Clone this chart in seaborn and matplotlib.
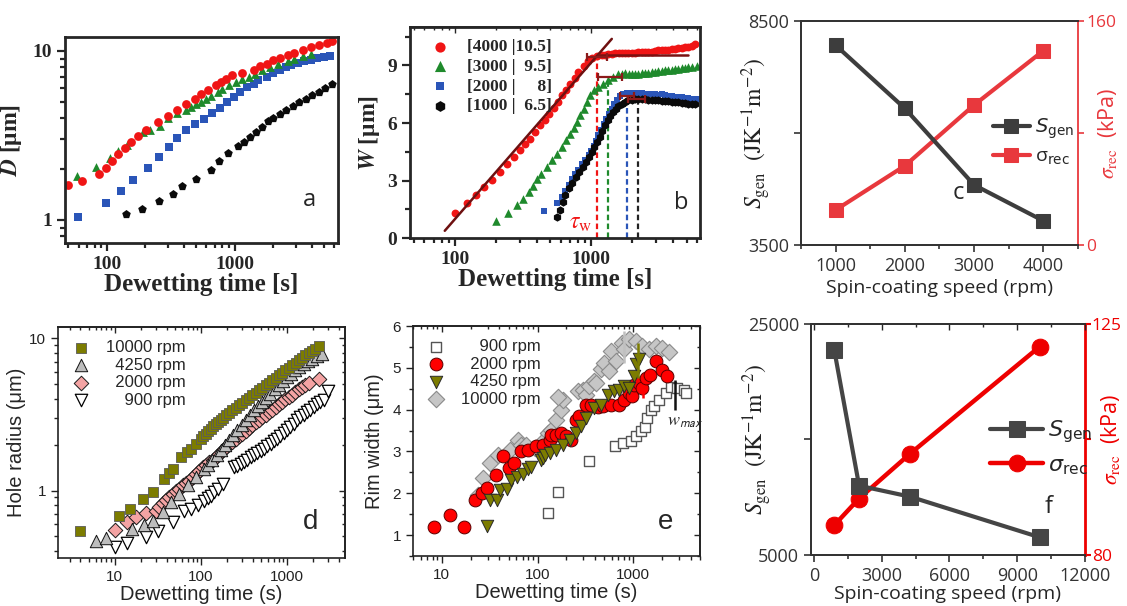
import matplotlib
matplotlib.use("Agg")
import matplotlib.pyplot as plt
import seaborn as sns
from matplotlib.ticker import (LogLocator, NullFormatter, FixedLocator,
                               MultipleLocator, FixedFormatter)
from matplotlib.font_manager import FontProperties

# ---------------- data ----------------
# panel a: D vs dewetting time
a_red_t = [50, 64, 86, 99, 110, 123, 139, 154, 175, 201, 250, 298, 351, 414, 485, 546, 621, 711, 777, 849,
           953, 1138, 1399, 1574, 1770, 1991, 2239, 2594, 2917, 3380, 3917, 4538, 5250, 5737]
a_red_d = [1.62, 1.71, 1.87, 2.03, 2.23, 2.44, 2.67, 2.88, 3.12, 3.42, 3.79, 4.10, 4.45, 4.83, 5.22, 5.54, 5.90,
           6.26, 6.55, 6.86, 7.17, 7.41, 7.76, 8.12, 8.42, 8.81, 9.14, 9.43, 9.73, 10.1, 10.5, 10.9, 11.2, 11.4]
a_green_t = [58, 82, 105, 123, 144, 193, 217, 262, 298, 351, 414, 457, 500, 546, 596, 651, 732, 799, 899,
             1012, 1138, 1280, 1441, 1620, 1878, 2173, 2594, 2917, 3380, 3917]
a_green_d = [1.81, 2.05, 2.33, 2.55, 2.76, 3.31, 3.42, 3.62, 4.03, 4.29, 4.49, 4.66, 4.83, 4.98, 5.22, 5.41,
             5.71, 5.98, 6.26, 6.55, 6.86, 7.01, 7.34, 7.69, 8.04, 8.34, 8.72, 9.01, 9.30, 9.56]
a_blue_t = [59, 99, 128, 159, 209, 254, 303, 355, 414, 485, 569, 663, 764, 873, 983, 1106, 1243, 1399, 1527,
            1770, 1991, 2239, 2517, 2749, 3092, 3482, 3917, 4404, 4954, 5570]
a_blue_d = [1.035, 1.26, 1.49, 1.73, 2.03, 2.37, 2.70, 3.06, 3.39, 3.71, 3.97, 4.29, 4.62, 4.98, 5.34, 5.71,
            6.11, 6.41, 6.70, 7.01, 7.41, 7.76, 8.04, 8.30, 8.54, 8.69, 8.89, 9.09, 9.21, 9.30]
a_black_t = [141, 189, 254, 327, 384, 500, 651, 745, 889, 1060, 1172, 1318, 1457, 1620, 1800, 1991, 2239, 2517,
             2832, 3186, 3581, 4027, 4538, 5095, 5737]
a_black_d = [1.09, 1.16, 1.29, 1.43, 1.58, 1.75, 1.98, 2.23, 2.48, 2.72, 2.88, 3.09, 3.31, 3.54, 3.85, 4.03,
             4.21, 4.45, 4.70, 4.98, 5.22, 5.46, 5.71, 6.07, 6.41]

# panel b: W vs dewetting time
b_labels = ["[4000 |10.5]", "[3000 |  9.5]", "[2000 |     8]", "[1000 |  6.5]"]
b_red_t = [101, 123, 142, 163, 188, 216, 242, 270, 303, 329, 358, 389, 424, 461, 493, 530, 571, 611, 653, 702,
           755, 807, 879, 946, 1012, 1100, 1198, 1270, 1339, 1420, 1498, 1590, 1677, 1780, 1875, 1990, 2099,
           2220, 2349, 2490, 2626, 2780, 2938, 3110, 3289, 3480, 3675, 3890, 4113, 4350, 4604, 4870, 5150,
           5450, 5765]
b_red_w = [1.33, 1.85, 2.25, 2.68, 3.03, 3.46, 3.86, 4.24, 4.58, 4.90, 5.19, 5.53, 5.88, 6.18, 6.49, 6.80,
           7.09, 7.44, 7.74, 8.05, 8.36, 8.65, 8.95, 9.22, 9.40, 9.48, 9.55, 9.52, 9.60, 9.58, 9.64, 9.62, 9.66,
           9.63, 9.67, 9.66, 9.67, 9.70, 9.69, 9.71, 9.72, 9.70, 9.75, 9.78, 9.78, 9.80, 9.81, 9.84, 9.86, 9.88,
           9.92, 9.95, 9.98, 10.03, 10.09]
b_green_t = [199, 246, 286, 314, 348, 372, 401, 431, 474, 516, 561, 611, 653, 702, 742, 786, 831, 879, 930, 984,
             1057, 1127, 1230, 1339, 1456, 1585, 1680, 1774, 1880, 1986, 2100, 2217, 2350, 2484, 2630, 2780,
             2940, 3106, 3290, 3477, 3680, 3892, 4120, 4353, 4600, 4873, 5150, 5453, 5932]
b_green_w = [0.91, 1.30, 1.73, 2.02, 2.42, 2.72, 3.06, 3.37, 3.72, 4.07, 4.38, 4.76, 5.10, 5.42, 5.76, 6.05,
             6.40, 6.75, 7.09, 7.44, 7.70, 7.87, 8.05, 8.22, 8.39, 8.57, 8.55, 8.60, 8.56, 8.53, 8.55, 8.57,
             8.58, 8.60, 8.62, 8.65, 8.68, 8.70, 8.72, 8.74, 8.76, 8.77, 8.80, 8.83, 8.85, 8.88, 8.90, 8.91, 8.95]
b_blue_t = [448, 561, 611, 645, 682, 722, 764, 807, 855, 904, 956, 1000, 1040, 1082, 1127, 1183, 1238, 1294,
            1355, 1417, 1481, 1550, 1630, 1723, 1824, 1986, 2100, 2217, 2350, 2484, 2630, 2780, 2940, 3106,
            3290, 3477, 3680, 3892, 4120, 4353, 4600, 4873, 5150, 5453, 5932]
b_blue_w = [1.43, 1.85, 2.16, 2.47, 2.77, 3.06, 3.34, 3.58, 3.86, 4.10, 4.32, 4.55, 4.79, 5.07, 5.36, 5.66,
            5.93, 6.23, 6.49, 6.75, 6.97, 7.18, 7.39, 7.53, 7.56, 7.58, 7.57, 7.56, 7.55, 7.53, 7.51, 7.49,
            7.49, 7.48, 7.49, 7.44, 7.42, 7.39, 7.37, 7.35, 7.33, 7.32, 7.29, 7.27, 7.25]
b_black_t = [561, 593, 617, 645, 682, 722, 773, 817, 864, 914, 967, 1012, 1057, 1106, 1158, 1210, 1265, 1324,
             1384, 1449, 1516, 1585, 1677, 1774, 1875, 1990, 2099, 2220, 2349, 2490, 2626, 2780, 2938, 3110,
             3289, 3480, 3675, 3890, 4113, 4350, 4604, 4870, 5150, 5450, 5765]
b_black_w = [1.12, 1.47, 1.90, 2.25, 2.60, 2.89, 3.20, 3.46, 3.72, 3.98, 4.24, 4.50, 4.76, 5.02, 5.28, 5.59,
             5.88, 6.14, 6.37, 6.57, 6.75, 6.87, 7.01, 7.11, 7.18, 7.22, 7.25, 7.25, 7.24, 7.23, 7.22, 7.21,
             7.20, 7.18, 7.17, 7.15, 7.14, 7.11, 7.09, 7.07, 7.06, 7.04, 7.01, 6.99, 6.97]
b_fit_t = [84.5, 1416]
b_fit_w = [0.39, 10.38]
b_plateau_t = [1127, 5100]
b_plateau_w = [9.52, 9.52]
b_err_t = [1100, 1375, 1824, 2217]
b_err_w = [9.45, 8.39, 7.42, 7.24]
b_err_lo = [171, 248, 194, 367]
b_err_hi = [203, 302, 226, 267]
b_tau_t = [1100, 1338, 1824, 2217]
b_tau_top = [9.45, 8.29, 7.32, 7.09]

# panel c
c_speed = [1000, 2000, 3000, 4000]
c_sgen = [7960, 6550, 4840, 4040]
c_sigma = [25, 56.6, 100, 138.8]

# panel d: hole radius
d_labels = ["10000 rpm", "\u20074250 rpm", "\u20072000 rpm", "\u2007\u2007900 rpm"]
d_10000_t = [3.95, 11.2, 15.2, 21.3, 27.7, 37.7, 43.1, 47.2, 58.8, 68.4, 76.7, 87.5, 100, 107, 114, 122, 130,
             139, 149, 159, 170, 182, 194, 212, 232, 253, 277, 302, 330, 360, 394, 430, 470, 515, 562, 615,
             671, 733, 800, 875, 955, 1045, 1142, 1250, 1360, 1490, 1626, 1780, 1941, 2120, 2314]
d_10000_r = [0.54, 0.684, 0.757, 0.881, 0.975, 1.19, 1.30, 1.39, 1.66, 1.79, 1.88, 2.03, 2.19, 2.27, 2.36,
             2.45, 2.55, 2.65, 2.75, 2.83, 2.92, 3.02, 3.12, 3.25, 3.37, 3.50, 3.63, 3.78, 3.92, 4.07, 4.23,
             4.40, 4.56, 4.74, 4.92, 5.11, 5.31, 5.52, 5.73, 5.95, 6.18, 6.42, 6.67, 6.93, 7.19, 7.47, 7.76,
             8.02, 8.28, 8.58, 8.90]
d_4250_t = [6.04, 7.88, 16.0, 21.6, 27.7, 36.2, 45.1, 56.2, 70.3, 87.5, 109, 122, 136, 152, 170, 190, 212,
            237, 265, 296, 330, 368, 412, 460, 515, 575, 641, 715, 800, 895, 1000, 1115, 1247, 1390, 1553,
            1740, 1941, 2200, 2535]
d_4250_r = [0.463, 0.488, 0.56, 0.597, 0.634, 0.719, 0.838, 0.951, 1.08, 1.22, 1.39, 1.48, 1.58, 1.70, 1.84,
            1.99, 2.14, 2.31, 2.49, 2.68, 2.89, 3.12, 3.37, 3.58, 3.82, 4.07, 4.34, 4.62, 4.92, 5.24, 5.58,
            5.87, 6.18, 6.50, 6.84, 7.10, 7.38, 7.65, 7.96]
d_2000_t = [10, 13.9, 17.8, 22.8, 30.3, 33, 36.2, 39.5, 43.1, 47, 51.5, 56, 61.5, 67, 73.3, 80, 87.5, 96, 105,
            115, 125, 137, 149, 163, 178, 195, 212, 232, 253, 278, 303, 332, 361, 396, 431, 472, 515, 563,
            614, 672, 733, 800, 875, 955, 1043, 1140, 1247, 1360, 1489, 1630, 1775, 2314]
d_2000_r = [0.551, 0.625, 0.667, 0.708, 0.738, 0.78, 0.824, 0.86, 0.903, 0.95, 0.989, 1.03, 1.08, 1.12, 1.16,
            1.22, 1.29, 1.35, 1.42, 1.48, 1.54, 1.60, 1.67, 1.75, 1.84, 1.92, 2.01, 2.10, 2.19, 2.28, 2.36,
            2.47, 2.59, 2.70, 2.82, 2.93, 3.04, 3.16, 3.28, 3.41, 3.54, 3.68, 3.82, 3.97, 4.12, 4.28, 4.45,
            4.62, 4.80, 4.95, 5.10, 5.45]
d_900_t = [10, 13.9, 22.8, 31.7, 47.2, 64.2, 76.7, 91.6, 109, 120, 130, 143, 156, 178, 242, 265, 289, 316,
           346, 378, 412, 450, 492, 538, 588, 642, 700, 766, 837, 915, 1000, 1090, 1191, 1300, 1423, 1560,
           1702, 1860, 2028, 2220, 2421, 2650, 3000]
d_900_r = [0.423, 0.45, 0.492, 0.54, 0.618, 0.738, 0.757, 0.809, 0.859, 0.89, 0.927, 0.98, 1.03, 1.11, 1.42,
           1.46, 1.50, 1.55, 1.59, 1.65, 1.70, 1.76, 1.82, 1.88, 1.95, 2.03, 2.11, 2.19, 2.27, 2.38, 2.49,
           2.62, 2.75, 2.90, 3.04, 3.16, 3.28, 3.41, 3.54, 3.68, 3.82, 3.95, 4.50]

# panel e: rim width
e_labels = ["\u2007\u2007900 rpm", "\u20072000 rpm", "\u20074250 rpm", "10000 rpm"]
e_900_t = [128, 163, 347, 649, 773, 944, 1064, 1200, 1342, 1397, 1526, 1650, 1863, 2185, 2455, 2880, 3380, 3600]
e_900_w = [1.53, 2.02, 2.78, 3.14, 3.20, 3.24, 3.38, 3.48, 3.59, 3.80, 4.00, 4.08, 4.24, 4.40, 4.55, 4.52,
           4.48, 4.40]
e_2000_t = [8.2, 12.2, 17.0, 22.2, 26.1, 29.3, 37.2, 43.7, 50.5, 56.4, 67.9, 79.5, 97.2, 114, 134, 139, 157,
            176, 199, 225, 251, 274, 323, 362, 425, 479, 585, 717, 804, 906, 980, 1021, 1152, 1250, 1352,
            1480, 1720, 2000, 2250]
e_2000_w = [1.20, 1.48, 1.20, 1.84, 2.00, 2.12, 2.44, 2.88, 2.60, 2.72, 3.00, 3.04, 3.12, 3.16, 3.28, 3.40,
            3.40, 3.44, 3.36, 3.28, 3.76, 3.84, 4.10, 4.12, 4.07, 4.08, 4.10, 4.10, 4.24, 4.39, 4.32, 4.60,
            4.64, 4.52, 4.76, 4.84, 5.16, 4.96, 4.80]
e_4250_t = [29.8, 31.8, 37.8, 41.0, 47.4, 53.4, 61.1, 70.5, 79.5, 86.2, 110, 113, 119, 134, 157, 184, 216,
            253, 285, 322, 392, 460, 540, 633, 713, 804, 906, 1021, 1064, 1152]
e_4250_w = [1.22, 1.84, 1.84, 2.08, 2.10, 2.32, 2.40, 2.47, 2.58, 2.64, 2.80, 2.84, 2.92, 2.96, 3.04, 3.16,
            3.28, 3.44, 3.60, 3.80, 4.04, 4.12, 4.36, 4.44, 4.48, 4.56, 4.52, 4.80, 5.08, 5.20]
e_10000_t = [24.0, 27.0, 32.0, 38.8, 51.3, 62.5, 67.9, 76.0, 93.3, 114, 128, 139, 157, 176, 183, 162, 263, 297,
             321, 348, 392, 408, 460, 499, 560, 585, 655, 772, 804, 906, 1063, 1247, 1470, 1718, 2000, 2362]
e_10000_w = [1.97, 2.37, 2.72, 2.92, 3.04, 3.28, 3.16, 3.16, 3.08, 3.24, 3.44, 3.52, 3.76, 4.00, 4.24, 4.31,
             4.44, 4.48, 4.36, 4.56, 4.68, 4.64, 4.98, 5.12, 4.92, 5.40, 5.16, 5.60, 5.44, 5.68, 5.64, 5.52,
             5.44, 5.52, 5.48, 5.38]
e_bar_t = [804, 1132, 1276, 2705]
e_bar_lo = [5.12, 4.76, 4.28, 4.00]
e_bar_hi = [5.88, 5.60, 4.60, 4.72]

# panel f
f_speed = [900, 2000, 4250, 10000]
f_sgen = [22750, 11000, 10050, 6530]
f_sigma = [85.8, 91.0, 99.7, 120.6]

# ---------------- style ----------------
sns.set_theme(style="ticks")
plt.rcParams["font.family"] = ["Liberation Sans", "DejaVu Sans"]
plt.rcParams["mathtext.fontset"] = "stix"
plt.rcParams["axes.unicode_minus"] = True

SERIF = ["Liberation Serif", "DejaVu Serif"]
SANS = ["Liberation Sans", "DejaVu Sans"]
OPEN = ["Open Sans", "DejaVu Sans"]

fig = plt.figure(figsize=(11.27, 6.06), dpi=100)
fig.patch.set_facecolor("white")


def log_minor(axis):
    axis.set_minor_locator(LogLocator(base=10, subs=range(2, 10), numticks=20))
    axis.set_minor_formatter(NullFormatter())


def mirror(ax, xmaj=None, xmin=None, ymaj=None, ymin=None, do_x=True, do_y=True):
    if do_x:
        sx = ax.secondary_xaxis("top")
        sx.tick_params(axis="x", which="both", direction="in", labeltop=False,
                       length=4, width=1.0)
        sx.tick_params(axis="x", which="minor", length=2.5)
        if xmaj is not None:
            sx.xaxis.set_major_locator(xmaj)
        if xmin is not None:
            sx.xaxis.set_minor_locator(xmin)
        sx.xaxis.set_minor_formatter(NullFormatter())
    if do_y:
        sy = ax.secondary_yaxis("right")
        sy.tick_params(axis="y", which="both", direction="in", labelright=False,
                       length=4, width=1.0)
        sy.tick_params(axis="y", which="minor", length=2.5)
        if ymaj is not None:
            sy.yaxis.set_major_locator(ymaj)
        if ymin is not None:
            sy.yaxis.set_minor_locator(ymin)
        sy.yaxis.set_minor_formatter(NullFormatter())


# ================= panel a =================
ax = fig.add_axes([0.0577, 0.599, 0.2422, 0.340])
ax.set_xscale("log"); ax.set_yscale("log")
sns.scatterplot(x=a_black_t, y=a_black_d, marker="p", s=42, color="#0a0a0a", linewidth=0, ax=ax)
sns.scatterplot(x=a_blue_t, y=a_blue_d, marker="s", s=26, color="#2a55b8", linewidth=0, ax=ax)
sns.scatterplot(x=a_green_t, y=a_green_d, marker="^", s=40, color="#1f8a2c", linewidth=0, ax=ax)
sns.scatterplot(x=a_red_t, y=a_red_d, marker="o", s=40, color="#f01515", linewidth=0, ax=ax)
ax.set_xlim(47, 6400); ax.set_ylim(0.73, 12.1)
ax.xaxis.set_major_locator(FixedLocator([100, 1000]))
ax.xaxis.set_major_formatter(FixedFormatter(["100", "1000"]))
log_minor(ax.xaxis)
ax.yaxis.set_major_locator(FixedLocator([1, 10]))
ax.yaxis.set_major_formatter(FixedFormatter(["1", "10"]))
log_minor(ax.yaxis)
ax.tick_params(which="both", direction="out", width=1.6, length=6)
ax.tick_params(which="minor", length=3.5)
for lab in ax.get_xticklabels() + ax.get_yticklabels():
    lab.set_fontfamily(SERIF); lab.set_fontweight("bold"); lab.set_fontsize(14)
for s in ax.spines.values():
    s.set_linewidth(2.0); s.set_visible(True)
ax.set_xlabel("Dewetting time [s]", fontfamily=SERIF, fontweight="bold", fontsize=18, labelpad=0)
ax.set_ylabel(r"$\mathbfit{D}$ [μm]", fontfamily=SERIF, fontweight="bold", fontsize=17, labelpad=6)
ax.text(0.897, 0.209, "a", transform=ax.transAxes, fontsize=17, fontfamily=OPEN, ha="center", va="center")

# ================= panel b =================
ax = fig.add_axes([0.3638, 0.6068, 0.2573, 0.3487])
ax.set_xscale("log")
sns.lineplot(x=b_fit_t, y=b_fit_w, color="#6e1010", linewidth=1.8, ax=ax, zorder=5)
sns.lineplot(x=b_plateau_t, y=b_plateau_w, color="#7a1212", linewidth=1.8, ax=ax, zorder=5)
tau_cols = ["#f01515", "#1f8a2c", "#2a55b8", "#222222"]
for t, top, c in zip(b_tau_t, b_tau_top, tau_cols):
    ax.vlines(t, 0, top, colors=c, linestyles=(0, (2.5, 1.5)), linewidth=1.6, zorder=1)
sns.scatterplot(x=b_blue_t, y=b_blue_w, marker="s", s=22, color="#2a55b8", linewidth=0, ax=ax,
                label=b_labels[2], legend=False)
sns.scatterplot(x=b_black_t, y=b_black_w, marker="h", s=36, color="#0a0a0a", linewidth=0, ax=ax,
                label=b_labels[3], legend=False)
sns.scatterplot(x=b_green_t, y=b_green_w, marker="^", s=38, color="#1f8a2c", linewidth=0, ax=ax,
                label=b_labels[1], legend=False)
sns.scatterplot(x=b_red_t, y=b_red_w, marker="o", s=32, color="#f01515", linewidth=0, ax=ax,
                label=b_labels[0], legend=False)
ax.errorbar(b_err_t, b_err_w, xerr=[b_err_lo, b_err_hi], fmt="none", ecolor="#8b1a1a",
            elinewidth=1.6, capsize=3, capthick=1.6, zorder=6)
ax.set_xlim(47, 6270); ax.set_ylim(0, 11)
ax.xaxis.set_major_locator(FixedLocator([100, 1000]))
ax.xaxis.set_major_formatter(FixedFormatter(["100", "1000"]))
log_minor(ax.xaxis)
ax.yaxis.set_major_locator(FixedLocator([0, 3, 6, 9]))
ax.yaxis.set_minor_locator(MultipleLocator(1.5))
ax.tick_params(which="both", direction="out", width=1.6, length=6)
ax.tick_params(which="minor", length=3.5)
for lab in ax.get_xticklabels() + ax.get_yticklabels():
    lab.set_fontfamily(SERIF); lab.set_fontweight("bold"); lab.set_fontsize(14)
for s in ax.spines.values():
    s.set_linewidth(2.0); s.set_visible(True)
mirror(ax, xmin=LogLocator(base=10, subs=range(2, 10), numticks=20), do_y=False)
ax.set_xlabel("Dewetting time [s]", fontfamily=SERIF, fontweight="bold", fontsize=18, labelpad=0)
ax.set_ylabel(r"$\mathbfit{W}$ [μm]", fontfamily=SERIF, fontweight="bold", fontsize=17, labelpad=4)
hs, ls = ax.get_legend_handles_labels()
order = [ls.index(l) for l in b_labels]
ax.legend([hs[i] for i in order], [ls[i] for i in order], loc="upper left", bbox_to_anchor=(0.0, 1.0),
          frameon=False, prop=FontProperties(family=SERIF, weight="bold", size=12.5),
          handletextpad=0.6, labelspacing=0.2, borderaxespad=0.3, markerscale=1.3)
ax.text(830, 0.78, r"$\tau_{\rm w}$", color="#f01515", fontsize=17, ha="center", va="center")
ax.text(0.937, 0.166, "b", transform=ax.transAxes, fontsize=17, fontfamily=OPEN, ha="center", va="center")

# ================= panel c =================
GREY = "#3d3d3d"
RED_C = "#e8383d"
ax = fig.add_axes([0.7107, 0.5957, 0.2458, 0.3696])
ax2 = ax.twinx()
sns.lineplot(x=c_speed, y=c_sigma, color=RED_C, linewidth=3, marker="s", markersize=10,
             markeredgecolor=RED_C, ax=ax2, label=r"σ$_{\mathsf{rec}}$", legend=False)
sns.lineplot(x=c_speed, y=c_sgen, color=GREY, linewidth=3, marker="s", markersize=10,
             markeredgecolor=GREY, ax=ax, label=r"$S_{\mathsf{gen}}$", legend=False)
ax.set_zorder(ax2.get_zorder() + 1); ax.patch.set_visible(False)
ax.set_xlim(500, 4500); ax.set_ylim(3500, 8500); ax2.set_ylim(0, 160)
ax.xaxis.set_major_locator(FixedLocator(c_speed))
ax.xaxis.set_minor_locator(MultipleLocator(500))
ax.yaxis.set_major_locator(FixedLocator([3500, 6000, 8500]))
ax.yaxis.set_major_formatter(FixedFormatter(["3500", "", "8500"]))
ax2.yaxis.set_major_locator(FixedLocator([0, 80, 160]))
ax2.yaxis.set_major_formatter(FixedFormatter(["0", "", "160"]))
ax.tick_params(which="both", direction="out", width=1.2, length=5, colors="#333333", labelsize=13)
ax.tick_params(which="minor", length=3)
ax2.tick_params(axis="y", direction="out", width=1.2, length=4, colors=RED_C, labelsize=12.5, pad=2)
for lab in ax.get_xticklabels() + ax.get_yticklabels() + ax2.get_yticklabels():
    lab.set_fontfamily(OPEN)
for s in ax.spines.values():
    s.set_linewidth(1.3); s.set_color("#333333")
ax.spines["right"].set_visible(False)
for s in ax2.spines.values():
    s.set_linewidth(1.3); s.set_color("#333333")
ax2.spines["right"].set_color(RED_C)
ax.set_xlabel("Spin-coating speed (rpm)", fontfamily=OPEN, fontsize=14, labelpad=3)
ax.set_ylabel(r"$S_{\mathrm{gen}}\ \ (\mathrm{JK^{-1}m^{-2}})$", fontsize=17, color="#222222")
ax.yaxis.set_label_coords(-0.10, 0.5)
ax2.set_ylabel(r"$\sigma_{\mathrm{rec}}$  (kPa)", fontfamily=OPEN, fontsize=15.5, color=RED_C)
ax2.yaxis.set_label_coords(1.066, 0.5)
h1, l1 = ax.get_legend_handles_labels()
h2, l2 = ax2.get_legend_handles_labels()
ax.legend(h1 + h2, l1 + l2, loc="center left", bbox_to_anchor=(0.63, 0.46), frameon=False,
          prop=FontProperties(family=OPEN, size=14, math_fontfamily="dejavusans"),
          handlelength=1.9, handletextpad=0.25, labelspacing=0.35)
ax.text(0.568, 0.231, "c", transform=ax.transAxes, fontsize=17, fontfamily=OPEN, ha="center", va="center")

# ================= panel d =================
ax = fig.add_axes([0.0515, 0.0792, 0.2547, 0.3812])
ax.set_xscale("log"); ax.set_yscale("log")
sns.scatterplot(x=d_900_t, y=d_900_r, marker="v", s=80, color="white", edgecolor="black", linewidth=0.9,
                ax=ax, label=d_labels[3], legend=False)
sns.scatterplot(x=d_2000_t, y=d_2000_r, marker="D", s=55, color="#f4a3a3", edgecolor="#1a1a1a", linewidth=0.7,
                ax=ax, label=d_labels[2], legend=False)
sns.scatterplot(x=d_4250_t, y=d_4250_r, marker="^", s=80, color="#bdbdbd", edgecolor="#111111", linewidth=0.7,
                ax=ax, label=d_labels[1], legend=False)
sns.scatterplot(x=d_10000_t, y=d_10000_r, marker="s", s=60, color="#7c7c00", edgecolor="#5a5a5a",
                linewidth=0.6, ax=ax, label=d_labels[0], legend=False)
ax.set_xlim(2.2, 4700); ax.set_ylim(0.36, 11.9)
ax.xaxis.set_major_locator(FixedLocator([10, 100, 1000]))
ax.xaxis.set_major_formatter(FixedFormatter(["10", "100", "1000"]))
log_minor(ax.xaxis)
ax.yaxis.set_major_locator(FixedLocator([1, 10]))
ax.yaxis.set_major_formatter(FixedFormatter(["1", "10"]))
log_minor(ax.yaxis)
ax.tick_params(which="both", direction="out", width=1.0, length=5, labelsize=11, colors="#222222")
ax.tick_params(which="minor", length=3)
for s in ax.spines.values():
    s.set_linewidth(1.2); s.set_color("#222222")
mirror(ax, xmaj=FixedLocator([10, 100, 1000]), xmin=LogLocator(base=10, subs=range(2, 10), numticks=20),
       ymaj=FixedLocator([1, 10]), ymin=LogLocator(base=10, subs=range(2, 10), numticks=20))
ax.set_xlabel("Dewetting time (s)", fontsize=14.5, labelpad=1)
ax.set_ylabel("Hole radius (μm)", fontsize=14.5, labelpad=2)
hs, ls = ax.get_legend_handles_labels()
order = [ls.index(l) for l in d_labels]
ax.legend([hs[i] for i in order], [ls[i] for i in order], loc="upper left", bbox_to_anchor=(0.0, 1.0),
          frameon=False, prop=FontProperties(family=SANS, size=12), handletextpad=0.9,
          labelspacing=0.15, borderaxespad=0.4, handlelength=1.2)
ax.text(0.878, 0.157, "d", transform=ax.transAxes, fontsize=20, fontfamily=SANS, ha="center", va="center")

# ================= panel e =================
ax = fig.add_axes([0.3665, 0.0825, 0.2547, 0.3795])
ax.set_xscale("log")
sns.scatterplot(x=e_900_t, y=e_900_w, marker="s", s=60, color="white", edgecolor="#555555", linewidth=1.0,
                ax=ax, label=e_labels[0], legend=False)
sns.scatterplot(x=e_10000_t, y=e_10000_w, marker="D", s=70, color="#c6c6c6", edgecolor="#8a8a8a",
                linewidth=0.8, ax=ax, label=e_labels[3], legend=False)
sns.scatterplot(x=e_2000_t, y=e_2000_w, marker="o", s=85, color="#ff0000", edgecolor="#5a0000", linewidth=0.7,
                ax=ax, label=e_labels[1], legend=False)
sns.scatterplot(x=e_4250_t, y=e_4250_w, marker="v", s=80, color="#7c7c00", edgecolor="#2a2a2a", linewidth=0.7,
                ax=ax, label=e_labels[2], legend=False)
bar_cols = ["#c0c0c0", "#7c7c00", "#ff0000", "#111111"]
for t, lo, hi, c in zip(e_bar_t, e_bar_lo, e_bar_hi, bar_cols):
    ax.vlines(t, lo, hi, colors=c, linewidth=1.8, zorder=6)
ax.set_xlim(5, 5000); ax.set_ylim(0.5, 6)
ax.xaxis.set_major_locator(FixedLocator([10, 100, 1000]))
ax.xaxis.set_major_formatter(FixedFormatter(["10", "100", "1000"]))
log_minor(ax.xaxis)
ax.yaxis.set_major_locator(MultipleLocator(1))
ax.yaxis.set_minor_locator(MultipleLocator(0.5))
ax.tick_params(which="both", direction="out", width=1.0, length=5, labelsize=11, colors="#222222")
ax.tick_params(which="minor", length=3)
for s in ax.spines.values():
    s.set_linewidth(1.2); s.set_color("#222222")
mirror(ax, xmaj=FixedLocator([10, 100, 1000]), xmin=LogLocator(base=10, subs=range(2, 10), numticks=20),
       ymaj=MultipleLocator(1), ymin=MultipleLocator(0.5))
ax.set_xlabel("Dewetting time (s)", fontsize=14.5, labelpad=1)
ax.set_ylabel("Rim width (μm)", fontsize=14.5, labelpad=6)
hs, ls = ax.get_legend_handles_labels()
order = [ls.index(l) for l in e_labels]
ax.legend([hs[i] for i in order], [ls[i] for i in order], loc="upper left", bbox_to_anchor=(0.0, 1.0),
          frameon=False, prop=FontProperties(family=SANS, size=12), handletextpad=0.9,
          labelspacing=0.15, borderaxespad=0.4, handlelength=1.2)
ax.text(2250, 3.72, r"$\mathit{w}_{\mathsf{max}}$", fontsize=13, ha="left", va="center")
ax.text(0.878, 0.149, "e", transform=ax.transAxes, fontsize=20, fontfamily=SANS, ha="center", va="center")

# ================= panel f =================
RED_F = "#ee0000"
ax = fig.add_axes([0.7196, 0.0842, 0.2431, 0.3812])
ax2 = ax.twinx()
sns.lineplot(x=f_speed, y=f_sigma, color=RED_F, linewidth=3.2, marker="o", markersize=12,
             markeredgecolor=RED_F, ax=ax2, label=r"$\sigma_{\mathsf{rec}}$", legend=False)
sns.lineplot(x=f_speed, y=f_sgen, color="#454545", linewidth=3, marker="s", markersize=11,
             markeredgecolor="#454545", ax=ax, label=r"$S_{\mathsf{gen}}$", legend=False)
ax.set_zorder(ax2.get_zorder() + 1); ax.patch.set_visible(False)
ax.set_xlim(-130, 12000); ax.set_ylim(5000, 25000); ax2.set_ylim(80, 125)
ax.xaxis.set_major_locator(MultipleLocator(3000))
ax.xaxis.set_minor_locator(MultipleLocator(1500))
ax.yaxis.set_major_locator(FixedLocator([5000, 15000, 25000]))
ax.yaxis.set_major_formatter(FixedFormatter(["5000", "", "25000"]))
ax2.yaxis.set_major_locator(FixedLocator([80, 102.5, 125]))
ax2.yaxis.set_major_formatter(FixedFormatter(["80", "", "125"]))
ax.tick_params(which="both", direction="out", width=1.2, length=5, colors="#333333", labelsize=13)
ax.tick_params(which="minor", length=3)
ax2.tick_params(axis="y", direction="out", width=1.5, length=4, colors=RED_F, labelsize=12.5, pad=1)
for lab in ax.get_xticklabels() + ax.get_yticklabels() + ax2.get_yticklabels():
    lab.set_fontfamily(OPEN)
for s in ax.spines.values():
    s.set_linewidth(1.3); s.set_color("#333333")
ax.spines["right"].set_visible(False)
for s in ax2.spines.values():
    s.set_linewidth(1.3); s.set_color("#333333")
ax2.spines["right"].set_color(RED_F); ax2.spines["right"].set_linewidth(2)
mirror(ax, xmaj=MultipleLocator(3000), xmin=MultipleLocator(1500), do_y=False)
ax.set_xlabel("Spin-coating speed (rpm)", fontfamily=OPEN, fontsize=14, labelpad=0)
ax.set_ylabel(r"$S_{\mathrm{gen}}\ \ (\mathrm{JK^{-1}m^{-2}})$", fontsize=17, color="#222222")
ax.yaxis.set_label_coords(-0.135, 0.5)
ax2.set_ylabel(r"$\sigma_{\mathrm{rec}}$  (kPa)", fontfamily=OPEN, fontsize=15.5, color=RED_F)
ax2.yaxis.set_label_coords(1.05, 0.5)
h1, l1 = ax.get_legend_handles_labels()
h2, l2 = ax2.get_legend_handles_labels()
ax.legend(h1 + h2, l1 + l2, loc="center left", bbox_to_anchor=(0.58, 0.465), frameon=False,
          prop=FontProperties(family=OPEN, size=16, math_fontfamily="dejavusans"),
          handlelength=2.4, handletextpad=0.2, labelspacing=0.45)
ax.text(0.866, 0.209, "f", transform=ax.transAxes, fontsize=17, fontfamily=OPEN, ha="center", va="center")

fig.savefig("out.png", dpi=100, facecolor="white")
